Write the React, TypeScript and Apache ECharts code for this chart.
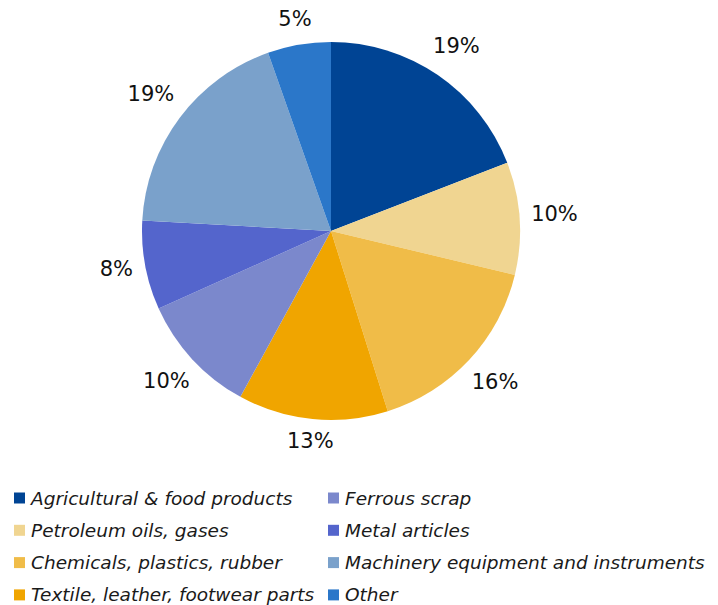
import React, { useEffect, useRef } from "react";
import * as echarts from "echarts";

const categories = [
  "Agricultural & food products",
  "Petroleum oils, gases",
  "Chemicals, plastics, rubber",
  "Textile, leather, footwear parts",
  "Ferrous scrap",
  "Metal articles",
  "Machinery equipment and instruments",
  "Other",
];
const shares = [19.1, 9.6, 16.4, 12.8, 10.3, 7.6, 18.7, 5.4];
const colors = ["#004494", "#f0d591", "#f0bc48", "#f0a500", "#7b88cc", "#5465cc", "#7aa1cb", "#2b77c9"];

const CX = 323;
const CY = 223;
const R = 189;
const GAP = 11;

export default function App() {
  const ref = useRef<HTMLDivElement>(null);
  useEffect(() => {
    const chart = echarts.init(ref.current!, null, { renderer: "svg" });
    const legendText = {
      fontFamily: "'DejaVu Sans', sans-serif",
      fontStyle: "italic",
      fontSize: 18.5,
      lineHeight: 20,
      color: "#1a1a1a",
      padding: [0, 0, 0, 1],
    };
    const legendBase = {
      orient: "vertical",
      top: 475,
      height: 200,
      itemWidth: 11,
      itemHeight: 11,
      itemGap: 12.3,
      icon: "rect",
      textStyle: legendText,
    };
    const data = categories.map((c, i) => ({ name: c, value: shares[i] }));
    chart.setOption({
      animation: false,
      color: colors,
      legend: [
        { ...legendBase, data: categories.slice(0, 4), left: 1 },
        { ...legendBase, data: categories.slice(4), left: 315 },
      ],
      series: [
        {
          type: "pie",
          center: [CX, CY],
          radius: R,
          startAngle: 90,
          clockwise: true,
          data,
          label: {
            show: true,
            position: "inside",
            formatter: (p: any) => Math.round(p.value) + "%",
            fontFamily: "'DejaVu Sans', sans-serif",
            fontSize: 21,
            color: "#111",
          },
          labelLine: { show: false },
          labelLayout: (p: any) => {
            const lr = p.labelRect;
            const mx = lr.x + lr.width / 2 - CX;
            const my = lr.y + lr.height / 2 - CY;
            const len = Math.sqrt(mx * mx + my * my) || 1;
            const ux = mx / len;
            const uy = my / len;
            const d = R + GAP + (Math.abs(ux) * lr.width) / 2 + (Math.abs(uy) * lr.height) / 2;
            return { x: CX + ux * d, y: CY + uy * d - 2, align: "center", verticalAlign: "middle" };
          },
          itemStyle: { borderWidth: 0 },
          emphasis: { disabled: true },
        },
      ],
    });
    return () => chart.dispose();
  }, []);
  return <div ref={ref} style={{ width: 702, height: 597 }} />;
}
